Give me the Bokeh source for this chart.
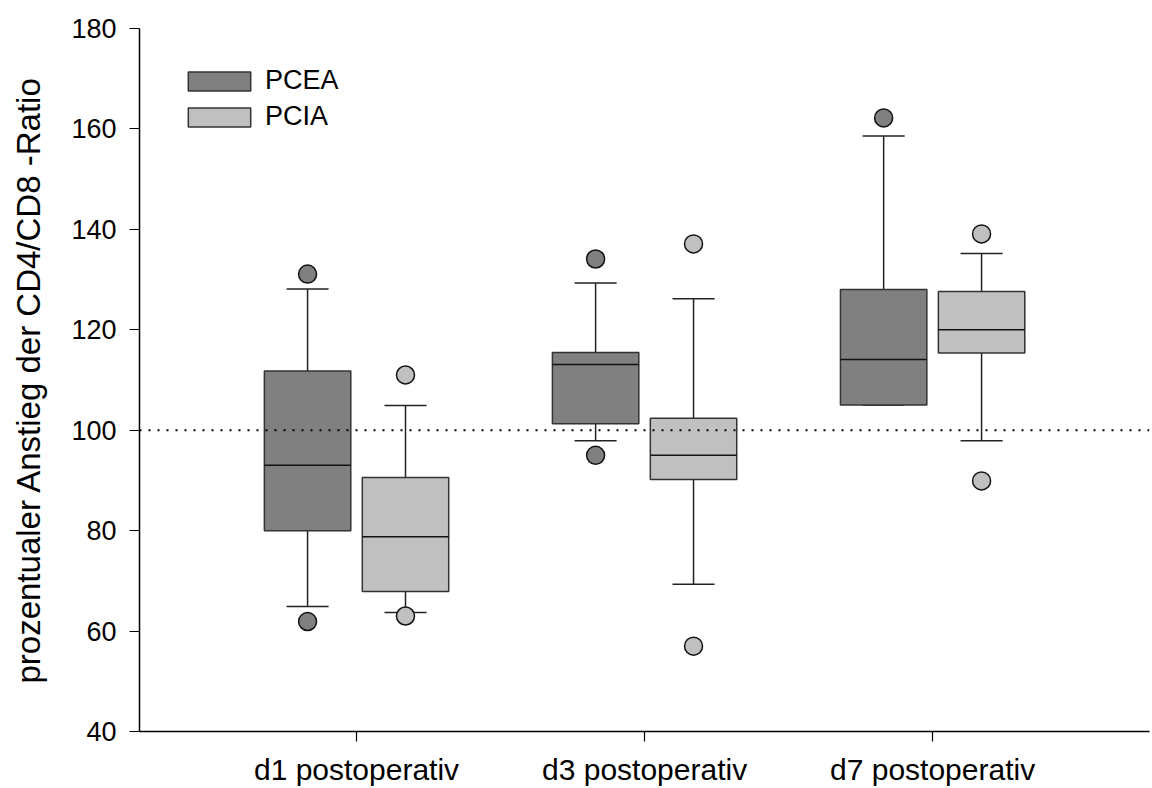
from bokeh.plotting import figure
from bokeh.models import Span, FixedTicker, Legend, LegendItem, ColumnDataSource
from bokeh.embed import file_html
from bokeh.resources import INLINE

categories = ["d1 postoperativ", "d3 postoperativ", "d7 postoperativ"]
groups = ["PCEA", "PCIA"]

pcea_low = [64.9, 97.9, 105.0]
pcea_q1 = [80.0, 101.3, 105.0]
pcea_med = [93.0, 113.1, 114.1]
pcea_q3 = [111.8, 115.5, 128.0]
pcea_high = [128.1, 129.3, 158.6]
pcea_outliers = [[131.1, 61.9], [134.1, 95.0], [162.2]]

pcia_low = [63.7, 69.3, 97.9]
pcia_q1 = [67.9, 90.2, 115.4]
pcia_med = [78.8, 95.0, 120.0]
pcia_q3 = [90.6, 102.4, 127.6]
pcia_high = [104.9, 126.2, 135.2]
pcia_outliers = [[111.0, 63.0], [137.1, 57.0], [139.1, 89.9]]

y_ticks = [40, 60, 80, 100, 120, 140, 160, 180]
reference_value = 100

FONT = "Liberation Sans"
colors = {"PCEA": "#808080", "PCIA": "#c0c0c0"}
offsets = {"PCEA": -0.17, "PCIA": 0.17}
box_w = 0.30
cap_w = 0.146

p = figure(width=1152, height=788, output_backend="svg", toolbar_location=None,
           x_range=(0.2465, 3.753), y_range=(40, 180),
           min_border_left=139, min_border_right=3, min_border_top=28, min_border_bottom=57)
p.outline_line_color = None
p.xgrid.visible = False
p.ygrid.visible = False

p.add_layout(Span(location=reference_value, dimension="width", line_color="black",
                  line_dash="2 7", line_width=2))

series = {
    "PCEA": (pcea_low, pcea_q1, pcea_med, pcea_q3, pcea_high, pcea_outliers),
    "PCIA": (pcia_low, pcia_q1, pcia_med, pcia_q3, pcia_high, pcia_outliers),
}
legend_items = []
for g in groups:
    low, q1, med, q3, high, outl = series[g]
    xs = [i + 1 + offsets[g] for i in range(len(categories))]
    src = ColumnDataSource(dict(x=xs, low=low, q1=q1, med=med, q3=q3, high=high,
                                cl=[x - cap_w / 2 for x in xs], cr=[x + cap_w / 2 for x in xs],
                                bl=[x - box_w / 2 for x in xs], br=[x + box_w / 2 for x in xs]))
    p.segment("x", "q3", "x", "high", source=src, line_color="#222222", line_width=1.5)
    p.segment("x", "low", "x", "q1", source=src, line_color="#222222", line_width=1.5)
    p.segment("cl", "high", "cr", "high", source=src, line_color="#222222", line_width=1.5)
    p.segment("cl", "low", "cr", "low", source=src, line_color="#222222", line_width=1.5)
    r = p.vbar(x="x", width=box_w, bottom="q1", top="q3", source=src,
               fill_color=colors[g], line_color="#333333", line_width=1.5)
    p.segment("bl", "med", "br", "med", source=src, line_color="#111111", line_width=1.5)
    ox, oy = [], []
    for x, vals in zip(xs, outl):
        for v in vals:
            ox.append(x)
            oy.append(v)
    p.scatter(ox, oy, size=18, fill_color=colors[g], line_color="#111111", line_width=1.5)
    legend_items.append(LegendItem(label=g, renderers=[r]))

legend = Legend(items=legend_items, location=(41, 599), padding=0, spacing=5,
                glyph_width=78, glyph_height=24, label_height=20, label_standoff=7,
                border_line_color=None, background_fill_alpha=0,
                label_text_font=FONT, label_text_font_size="27px",
                label_text_color="black", margin=0)
p.add_layout(legend)

p.xaxis.ticker = FixedTicker(ticks=[i + 1 for i in range(len(categories))])
p.xaxis.major_label_overrides = {i + 1: c for i, c in enumerate(categories)}
p.yaxis.ticker = FixedTicker(ticks=y_ticks)
p.yaxis.axis_label = "prozentualer Anstieg der CD4/CD8 -Ratio"

for ax in (p.xaxis, p.yaxis):
    ax.axis_line_width = 1.5
    ax.axis_line_color = "black"
    ax.major_tick_line_color = "black"
    ax.major_tick_line_width = 1.2
    ax.major_tick_out = 10
    ax.major_tick_in = 0
    ax.minor_tick_line_color = None
    ax.major_label_text_font = FONT
    ax.major_label_text_color = "black"
p.yaxis.major_label_text_font_size = "27px"
p.xaxis.major_label_text_font_size = "30px"
p.yaxis.major_label_standoff = 13
p.xaxis.major_label_standoff = 11
p.yaxis.axis_label_text_font = FONT
p.yaxis.axis_label_text_font_size = "33px"
p.yaxis.axis_label_text_font_style = "normal"
p.yaxis.axis_label_text_color = "black"
p.yaxis.axis_label_standoff = 21

open("out.html", "w").write(file_html(p, INLINE))
